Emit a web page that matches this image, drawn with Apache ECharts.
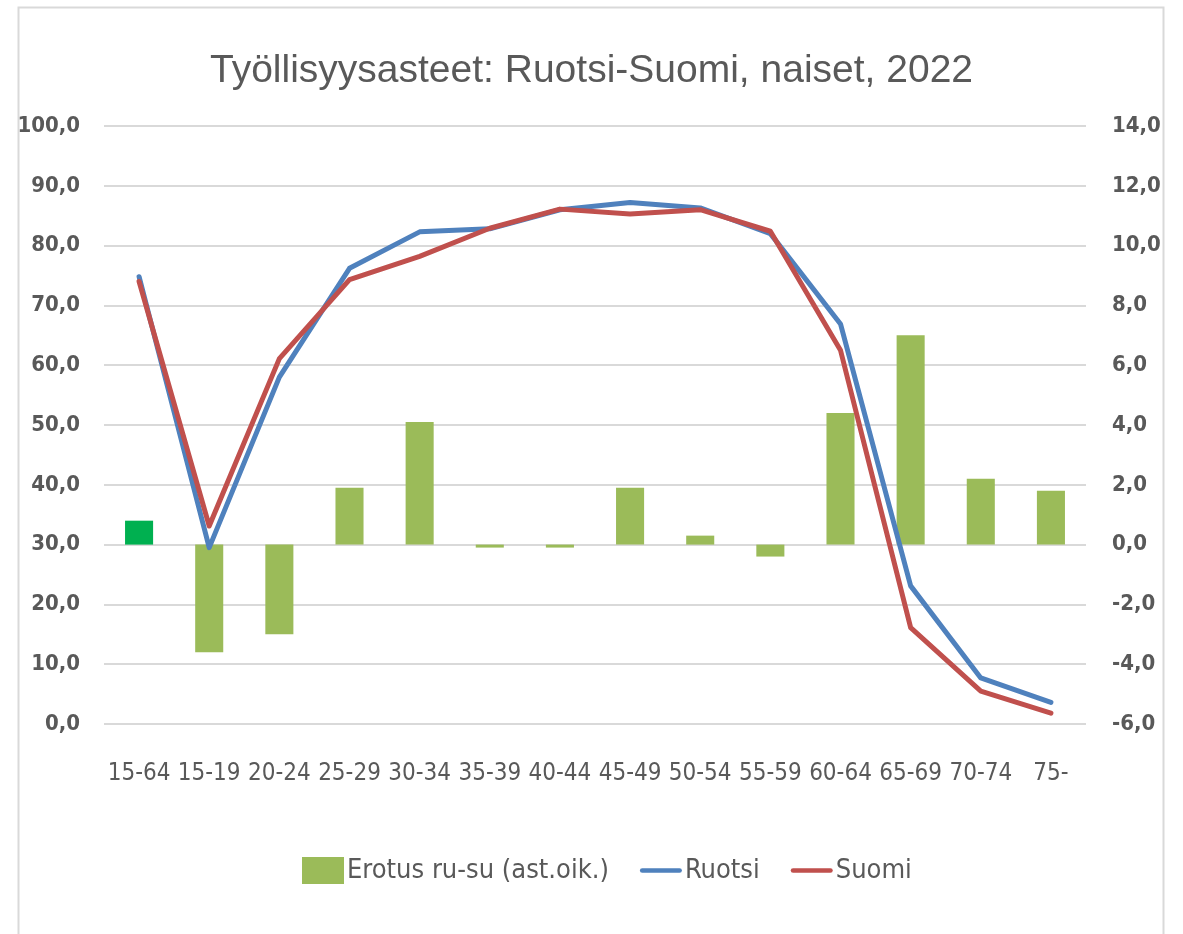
<!DOCTYPE html>
<html>
<head>
<meta charset="utf-8">
<script src="https://cdn.jsdelivr.net/npm/echarts@6/dist/echarts.min.js"></script>
<style>
html,body{margin:0;padding:0;background:#fff;}
#chart{width:1183px;height:934px;}
</style>
</head>
<body>
<div id="chart"></div>
<script>
// ---- data ----
const titleText = 'Työllisyysasteet: Ruotsi-Suomi, naiset, 2022';
const categories = ['15-64','15-19','20-24','25-29','30-34','35-39','40-44','45-49','50-54','55-59','60-64','65-69','70-74','75-'];
const seriesNames = ['Erotus ru-su (ast.oik.)', 'Ruotsi', 'Suomi'];
const erotus = [0.8, -3.6, -3.0, 1.9, 4.1, -0.1, -0.1, 1.9, 0.3, -0.4, 4.4, 7.0, 2.2, 1.8];
const ruotsi = [74.8, 29.5, 58.0, 76.2, 82.3, 82.8, 86.0, 87.2, 86.3, 82.0, 66.9, 23.1, 7.7, 3.6];
const suomi  = [74.0, 33.1, 61.1, 74.3, 78.2, 82.9, 86.1, 85.3, 86.0, 82.4, 62.5, 16.1, 5.5, 1.8];
const leftTicks = {min: 0, max: 100, interval: 10};
const rightTicks = {min: -6, max: 14, interval: 2};

const fmt = v => v.toFixed(1).replace('.', ',');
const NARROW = '"DejaVu Sans Condensed", "Liberation Sans Narrow", "Liberation Sans", sans-serif';
const TXT = '#595959';
const GRID = '#d9d9d9';
const LINE_ICON = 'path://M2,0 L42,0 A2.5,2.5 0 0 1 42,5 L2,5 A2.5,2.5 0 0 1 2,0 Z';

const chart = echarts.init(document.getElementById('chart'), null, {renderer: 'canvas'});
chart.setOption({
  backgroundColor: '#fff',
  animation: false,
  title: {
    text: titleText,
    left: 'center',
    top: 47,
    textStyle: {fontFamily: '"Liberation Sans", Arial, sans-serif', fontSize: 39, fontWeight: 'normal', color: TXT}
  },
  graphic: [{
    type: 'rect', left: 16, top: 5, silent: true,
    shape: {width: 1145, height: 960},
    style: {fill: 'none', stroke: GRID, lineWidth: 2}
  }],
  legend: {
    left: 297, top: 852,
    itemWidth: 42, itemHeight: 27, itemGap: 31,
    textStyle: {fontFamily: NARROW, fontSize: 27, color: TXT, padding: [0,0,0,-2]},
    data: [
      {name: seriesNames[0], icon: 'rect'},
      {name: seriesNames[1], icon: LINE_ICON},
      {name: seriesNames[2], icon: LINE_ICON}
    ]
  },
  grid: {left: 104, right: 97, top: 126, bottom: 210, containLabel: false},
  xAxis: {
    type: 'category', data: categories,
    axisLine: {show: false}, axisTick: {show: false},
    axisLabel: {color: TXT, fontFamily: NARROW, fontSize: 24, margin: 38, interval: 0}
  },
  yAxis: [{
    type: 'value', min: leftTicks.min, max: leftTicks.max, interval: leftTicks.interval,
    axisLine: {show: false}, axisTick: {show: false},
    splitLine: {lineStyle: {color: GRID, width: 2}},
    axisLabel: {color: TXT, fontFamily: NARROW, fontWeight: 'bold', fontSize: 22, margin: 24, formatter: fmt}
  }, {
    type: 'value', min: rightTicks.min, max: rightTicks.max, interval: rightTicks.interval,
    axisLine: {show: false}, axisTick: {show: false},
    splitLine: {show: false},
    axisLabel: {color: TXT, fontFamily: NARROW, fontWeight: 'bold', fontSize: 22, margin: 26, formatter: fmt}
  }],
  series: [{
    name: seriesNames[0], type: 'bar', yAxisIndex: 1, barWidth: '40%',
    itemStyle: {color: '#9bbb59'},
    data: erotus.map((v, i) => i === 0 ? {value: v, itemStyle: {color: '#00b050'}} : v)
  }, {
    name: seriesNames[1], type: 'line', yAxisIndex: 0, data: ruotsi,
    symbol: 'none', lineStyle: {color: '#4f81bd', width: 5, cap: 'round', join: 'round'},
    itemStyle: {color: '#4f81bd'}
  }, {
    name: seriesNames[2], type: 'line', yAxisIndex: 0, data: suomi,
    symbol: 'none', lineStyle: {color: '#c0504d', width: 5, cap: 'round', join: 'round'},
    itemStyle: {color: '#c0504d'}
  }]
});
</script>
</body>
</html>
